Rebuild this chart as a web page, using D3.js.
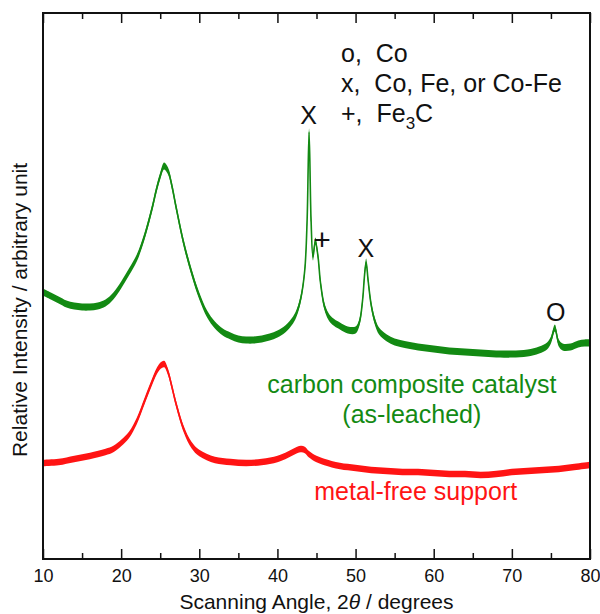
<!DOCTYPE html>
<html>
<head>
<meta charset="utf-8">
<script src="https://cdn.jsdelivr.net/npm/d3@7"></script>
<style>
  body { margin: 0; background: #fff; }
  svg { display: block; }
</style>
</head>
<body>
<div id="chart"></div>
<script>
// XRD patterns (intensity in arbitrary units)
const greenAngles = [10, 11, 12, 13, 14, 15, 16, 17, 18, 19, 20, 21, 22, 23, 24, 24.5, 25, 25.5, 26, 26.5,
  27, 28, 29, 30, 31, 32, 33, 34, 35, 36, 37, 38, 39, 40, 41, 42, 42.5, 43, 43.5, 43.8,
  44.05, 44.3, 44.55, 44.85, 45.2, 45.5, 46, 46.5, 47, 48, 49, 50, 50.5, 50.9, 51.15, 51.35, 51.6, 52, 52.5, 53,
  54, 55, 56, 58, 60, 62, 64, 66, 68, 70, 72, 73.5, 74.5, 75, 75.5, 76, 76.5, 77.5, 78.5, 79.3, 80];
const greenCounts = [267, 263, 259, 255, 253, 252, 252, 253, 256, 263, 274, 287, 301, 323, 352, 369, 383, 393, 388, 373,
  353, 316, 287, 263, 245, 234, 227, 223, 220, 219, 219, 220, 222, 225, 230, 239, 247, 261, 289, 339,
  427, 340, 302, 318, 302, 277, 253, 243, 238, 233, 229, 229, 237, 259, 284, 297, 279, 254, 237, 228,
  221, 217, 215, 212, 210, 208, 207, 206, 205, 205, 206, 209, 213, 219, 231, 216, 212, 212, 215, 216, 216];

const redAngles = [10, 12, 14, 16, 18, 19, 20, 21, 22, 23, 24, 24.5, 25, 25.5, 26, 26.5, 27, 28, 29, 30,
  32, 34, 36, 38, 40, 41, 42, 43, 43.5, 44, 45, 46, 48, 50, 52, 54, 56, 58, 60, 62,
  64, 66, 68, 70, 72, 74, 76, 78, 80];
const redCounts = [96, 97, 100, 103, 107, 110, 116, 124, 138, 158, 178, 187, 193, 195, 187, 172, 156, 130, 114, 106,
  99, 97, 96, 97, 100, 103, 107, 110, 109, 105, 100, 97, 93, 91, 89, 88, 87, 87, 86, 85,
  85, 84, 85, 87, 88, 89, 90, 92, 94];

// scatter of the counting noise (half-width of the band)
const greenNoise = 3.6;
const redNoise = 3.2;

const majorTicks = [10, 20, 30, 40, 50, 60, 70, 80];
const minorTicks = [15, 25, 35, 45, 55, 65, 75];

const peakLabels = ['X', '+', 'X', 'O'];
const peakAngles = [44.0, 45.7, 51.3, 75.6];
const peakLevels = [435, 309, 302, 238];

const seriesLabels = ['carbon composite catalyst', '(as-leached)', 'metal-free support'];
const seriesLabelAngles = [57.2, 57.2, 57.7];
const seriesLabelLevels = [166, 136, 59];

const legendLines = ['o,  Co', 'x,  Co, Fe, or Co-Fe', '+,  Fe'];

const width = 600, height = 614;
const margin = { top: 13, right: 10, bottom: 55, left: 43 };
const font = '"Liberation Sans", Arial, Helvetica, sans-serif';
const green = '#138a13';
const red = '#ff1414';

const svg = d3.select('#chart').append('svg')
  .attr('width', width)
  .attr('height', height)
  .style('font-family', font);

const x = d3.scaleLinear().domain([10, 80]).range([margin.left, width - margin.right]);
const y = d3.scaleLinear().domain([0, 546]).range([height - margin.bottom, margin.top]);

const greenData = greenAngles.map((a, i) => ({ a: a, v: greenCounts[i] }));
const redData = redAngles.map((a, i) => ({ a: a, v: redCounts[i] }));

function drawPattern(data, noise, color) {
  const curve = d3.curveCatmullRom.alpha(0.5);
  const band = d3.area()
    .x(d => x(d.a))
    .y0(d => y(d.v - noise))
    .y1(d => y(d.v + noise))
    .curve(curve);
  const line = d3.line()
    .x(d => x(d.a))
    .y(d => y(d.v))
    .curve(curve);
  svg.append('path')
    .datum(data)
    .attr('d', band)
    .attr('fill', color);
  svg.append('path')
    .datum(data)
    .attr('d', line)
    .attr('fill', 'none')
    .attr('stroke', color)
    .attr('stroke-width', 1.6);
}

drawPattern(greenData, greenNoise, green);
drawPattern(redData, redNoise, red);

// Axes (ticks point inward, top axis mirrors bottom)
const bottom = height - margin.bottom;
svg.append('g')
  .attr('transform', `translate(0,${bottom})`)
  .call(d3.axisBottom(x).tickValues(majorTicks).tickSizeInner(-10).tickSizeOuter(0).tickPadding(10).tickFormat(d3.format('d')))
  .call(g => g.select('.domain').remove())
  .call(g => g.selectAll('line').attr('stroke', '#111').attr('stroke-width', 1.5))
  .call(g => g.selectAll('text').attr('font-size', 18).attr('font-family', font).attr('fill', '#111'));
svg.append('g')
  .attr('transform', `translate(0,${bottom})`)
  .call(d3.axisBottom(x).tickValues(minorTicks).tickSizeInner(-6).tickSizeOuter(0).tickFormat(''))
  .call(g => g.select('.domain').remove())
  .call(g => g.selectAll('line').attr('stroke', '#111').attr('stroke-width', 1.5));
svg.append('g')
  .attr('transform', `translate(0,${margin.top})`)
  .call(d3.axisTop(x).tickValues(majorTicks).tickSizeInner(-10).tickSizeOuter(0).tickFormat(''))
  .call(g => g.select('.domain').remove())
  .call(g => g.selectAll('line').attr('stroke', '#111').attr('stroke-width', 1.5));
svg.append('g')
  .attr('transform', `translate(0,${margin.top})`)
  .call(d3.axisTop(x).tickValues(minorTicks).tickSizeInner(-6).tickSizeOuter(0).tickFormat(''))
  .call(g => g.select('.domain').remove())
  .call(g => g.selectAll('line').attr('stroke', '#111').attr('stroke-width', 1.5));

// Frame
svg.append('rect')
  .attr('x', margin.left)
  .attr('y', margin.top)
  .attr('width', width - margin.left - margin.right)
  .attr('height', height - margin.top - margin.bottom)
  .attr('fill', 'none')
  .attr('stroke', '#111')
  .attr('stroke-width', 2);

// Axis titles
const xTitle = svg.append('text')
  .attr('x', (margin.left + width - margin.right) / 2)
  .attr('y', 609)
  .attr('text-anchor', 'middle')
  .attr('font-size', 21)
  .attr('fill', '#111');
xTitle.append('tspan').text('Scanning Angle, 2');
xTitle.append('tspan').attr('font-style', 'italic').text('\u03b8');
xTitle.append('tspan').text(' / degrees');

svg.append('text')
  .attr('transform', 'translate(27,310) rotate(-90)')
  .attr('text-anchor', 'middle')
  .attr('font-size', 21)
  .attr('fill', '#111')
  .text('Relative Intensity / arbitrary unit');

// Peak markers
svg.append('g').selectAll('text')
  .data(peakLabels)
  .enter().append('text')
  .attr('x', (d, i) => x(peakAngles[i]))
  .attr('y', (d, i) => y(peakLevels[i]))
  .attr('text-anchor', 'middle')
  .attr('font-size', d => d === '+' ? 30 : 25)
  .attr('fill', '#111')
  .text(d => d);

// Series labels
svg.append('g').selectAll('text')
  .data(seriesLabels)
  .enter().append('text')
  .attr('x', (d, i) => x(seriesLabelAngles[i]))
  .attr('y', (d, i) => y(seriesLabelLevels[i]))
  .attr('text-anchor', 'middle')
  .attr('font-size', 25)
  .attr('fill', (d, i) => i < 2 ? green : red)
  .text(d => d);

// Legend of peak symbols
const legend = svg.append('g')
  .attr('font-size', 25)
  .attr('fill', '#111');
legendLines.forEach((t, i) => {
  const row = legend.append('text')
    .attr('x', 341)
    .attr('y', 62 + i * 30)
    .attr('xml:space', 'preserve')
    .style('white-space', 'pre')
    .text(t);
  if (i === 2) {
    row.append('tspan').attr('font-size', 17).attr('dy', 7).text('3');
    row.append('tspan').attr('dy', -7).text('C');
  }
});
</script>
</body>
</html>
